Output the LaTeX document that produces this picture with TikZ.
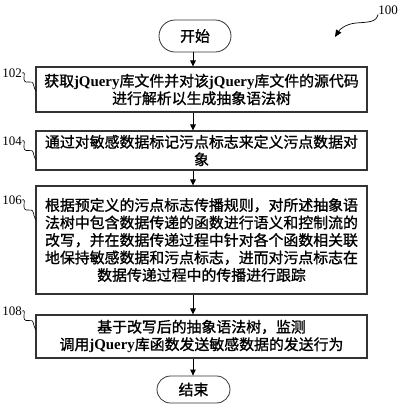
\documentclass[tikz,border=0pt]{standalone}
\usepackage{fontspec}
\setmainfont{Liberation Serif}
\newfontfamily\cjk[FakeBold=1.2]{Noto Sans CJK SC}
\usetikzlibrary{shapes.misc,arrows.meta,calc}
\newcommand\jq{{\rmfamily\bfseries jQuery}}
\tikzset{
  stepbox/.style={draw=black!80, line width=1.1pt, minimum width=331pt, inner sep=0pt, align=center,
    font=\cjk\fontsize{14.9}{17.5}\selectfont},
  term/.style={draw=black!80, rounded rectangle, line width=0.8pt, inner sep=0pt,
    font=\cjk\fontsize{14.9}{17.5}\selectfont},
  flow/.style={-{Triangle[length=6pt,width=5.5pt]}, line width=1pt},
  tag/.style={font=\fontsize{13}{13}\selectfont, inner sep=0pt},
  squig/.style={line width=0.6pt}
}
\begin{document}
\begin{tikzpicture}[x=1pt,y=-1pt]
\useasboundingbox (0,0) rectangle (400,408);
% terminators
\node[term, minimum width=72pt, minimum height=32pt] (start) at (195,36) {开始};
\node[term, minimum width=73pt, minimum height=27pt] (end) at (193.5,389.5) {结束};
% process boxes
\node[stepbox, minimum height=45pt] (b102) at (201.5,89.5)
  {获取\jq 库文件并对该\jq 库文件的源代码\\进行解析以生成抽象语法树};
\node[stepbox, minimum height=39pt] (b104) at (201.5,150.5)
  {通过对敏感数据标记污点标志来定义污点数据对\\象};
\node[stepbox, minimum height=108pt] (b106) at (201.5,240)
  {根据预定义的污点标志传播规则，对所述抽象语\\法树中包含数据传递的函数进行语义和控制流的\\改写，并在数据传递过程中针对各个函数相关联\\地保持敏感数据和污点标志，进而对污点标志在\\数据传递过程中的传播进行跟踪};
\node[stepbox, minimum height=43pt] (b108) at (201.5,336.5)
  {基于改写后的抽象语法树，监测\\调用\jq 库函数发送敏感数据的发送行为};
% flow arrows
\coordinate (a0) at (193,52);
\draw[flow] (start.south -| a0) -- (b102.north -| a0);
\draw[flow] (b102.south -| a0) -- (b104.north -| a0);
\draw[flow] (b104.south -| a0) -- (b106.north -| a0);
\draw[flow] (b106.south -| a0) -- (b108.north -| a0);
\draw[flow] (b108.south -| a0) -- (end.north -| a0);
% reference labels
\node[tag, anchor=east] (l102) at (22,73) {102};
\node[tag, anchor=east] (l104) at (22,141) {104};
\node[tag, anchor=east] (l106) at (22,200) {106};
\node[tag, anchor=east] (l108) at (22,311) {108};
\coordinate (e102) at (36,91);
\coordinate (e104) at (36,160);
\coordinate (e106) at (36,220);
\coordinate (e108) at (36,330);
\foreach \n in {102,104,106,108}{
  \draw[squig] (l\n.east) .. controls ++(6,-3) and ++(-10,2) .. ($(l\n.east)!0.5!(e\n)$)
    .. controls ++(6,-1) and ++(-4,-6) .. (e\n);
}
\node[tag] (l100) at (388,10) {100};
\coordinate (t100) at (335,37);
\draw[squig, line width=0.7pt, -{Triangle[length=7pt,width=6pt]}] (l100.south west) .. controls (376,22) and (370,22) .. (356,23)
  .. controls (346,24) and (340,29) .. (t100);
\end{tikzpicture}
\end{document}
